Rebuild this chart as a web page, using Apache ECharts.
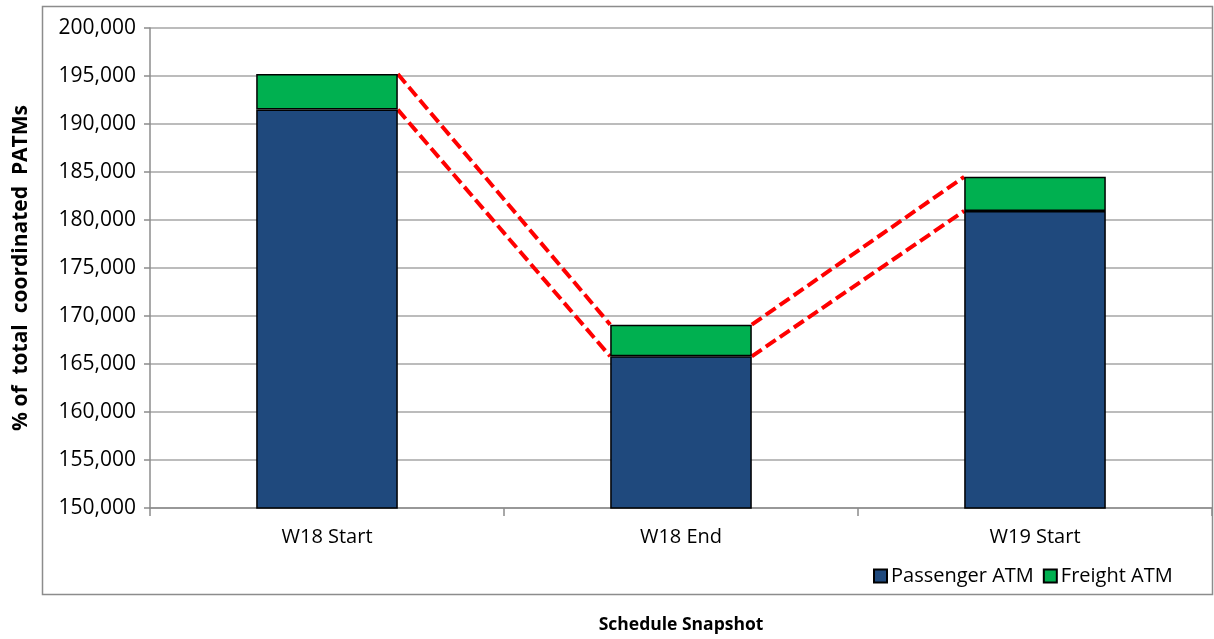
<!DOCTYPE html>
<html>
<head>
<meta charset="utf-8">
<script src="https://cdn.jsdelivr.net/npm/echarts@6/dist/echarts.min.js"></script>
<style>
html,body{margin:0;padding:0;background:#fff;}
#c{width:1214px;height:639px;}
</style>
</head>
<body>
<div id="c"></div>
<script>
const categories = ['W18 Start', 'W18 End', 'W19 Start'];
const passengerATM = [191500, 165800, 180950];
const freightATM = [3700, 3300, 3550];
const seriesNames = ['Passenger ATM', 'Freight ATM'];
const yMin = 150000, yMax = 200000, yStep = 5000;

const FONT = "'Open Sans', 'Noto Sans', sans-serif";
const barFrac = 0.4;
const totals = passengerATM.map((v, i) => v + freightATM[i]);

const connectorSeries = [];
for (let i = 0; i < categories.length - 1; i++) {
  const x0 = i + 0.5 + barFrac / 2;
  const x1 = i + 1 + 0.5 - barFrac / 2;
  [totals, passengerATM].forEach(arr => {
    connectorSeries.push({
      type: 'line',
      xAxisIndex: 1,
      data: [[x0, arr[i]], [x1, arr[i + 1]]],
      symbol: 'none',
      silent: true,
      z: 1,
      lineStyle: { color: '#ff0000', width: 4, type: [12, 5] }
    });
  });
}

const chart = echarts.init(document.getElementById('c'), null, { renderer: 'canvas' });
chart.setOption({
  animation: false,
  textStyle: { fontFamily: FONT },
  graphic: [{
    type: 'rect', shape: { x: 42.5, y: 6.5, width: 1170, height: 588 },
    style: { fill: 'none', stroke: '#8c8c8c', lineWidth: 1.5 }, z: -10
  }],
  grid: { left: 150, right: 2, top: 28, bottom: 131, outerBoundsMode: 'none', containLabel: false },
  legend: {
    data: seriesNames,
    left: 868, top: 561,
    icon: 'rect', itemWidth: 13, itemHeight: 13, itemGap: 9,
    textStyle: { fontFamily: FONT, fontSize: 20, color: '#000', padding: [0, 0, 0, -1] }
  },
  xAxis: [{
    type: 'category',
    data: categories,
    name: 'Schedule Snapshot',
    nameLocation: 'middle',
    nameGap: 108,
    nameTextStyle: { fontFamily: FONT, fontSize: 17.5, fontWeight: 'bold', color: '#000' },
    axisLine: { lineStyle: { color: '#8c8c8c', width: 1.5 } },
    axisTick: { show: true, length: 8, lineStyle: { color: '#8c8c8c', width: 1.5 } },
    axisLabel: { fontFamily: FONT, fontSize: 20, color: '#000', margin: 19 }
  }, {
    type: 'value', min: 0, max: categories.length, show: false
  }],
  yAxis: {
    type: 'value', min: yMin, max: yMax, interval: yStep,
    name: '% of  total  coordinated  PATMs',
    nameLocation: 'middle', nameRotate: 90, nameGap: 118,
    nameTextStyle: { fontFamily: FONT, fontSize: 21, fontWeight: 'bold', color: '#000' },
    axisLine: { show: true, lineStyle: { color: '#8c8c8c', width: 1.5 } },
    axisTick: { show: true, length: 6, lineStyle: { color: '#8c8c8c', width: 1.5 } },
    splitLine: { lineStyle: { color: '#a6a6a6', width: 1.5 } },
    axisLabel: {
      fontFamily: FONT, fontSize: 21, color: '#000', margin: 14,
      formatter: v => v.toLocaleString('en-US')
    }
  },
  series: [{
    name: seriesNames[0], type: 'bar', stack: 's', data: passengerATM,
    barWidth: (barFrac * 100) + '%', z: 3,
    itemStyle: { color: '#1f497d', borderColor: '#000', borderWidth: 1.5 }
  }, {
    name: seriesNames[1], type: 'bar', stack: 's', data: freightATM,
    barWidth: (barFrac * 100) + '%', z: 3,
    itemStyle: { color: '#00b050', borderColor: '#000', borderWidth: 1.5 }
  }].concat(connectorSeries)
});
</script>
</body>
</html>
